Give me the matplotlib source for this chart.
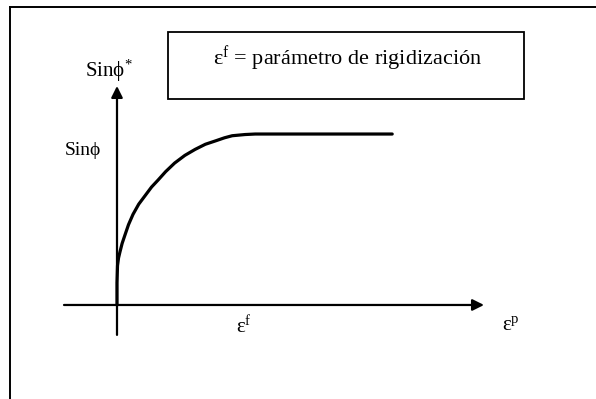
import matplotlib
matplotlib.use("Agg")
import matplotlib.pyplot as plt
from matplotlib.patches import Rectangle
from matplotlib.lines import Line2D

plt.rcParams['font.family'] = ['Liberation Serif', 'DejaVu Serif']
plt.rcParams['mathtext.fontset'] = 'custom'
plt.rcParams['mathtext.rm'] = 'Liberation Serif'
plt.rcParams['mathtext.it'] = 'Liberation Serif:italic'

# Hardening curve: plastic strain (in units of eps_f) vs mobilised sin(phi) (in units of sin(phi))
eps_p = [0.0, 0.0, 0.004, 0.012, 0.023, 0.04, 0.0625, 0.09, 0.125, 0.17, 0.22, 0.27,
         0.32, 0.38, 0.45, 0.53, 0.61, 0.69, 0.77, 0.84, 0.90, 1.0, 1.08, 2.15]
sin_phi = [0.0, 0.13, 0.23, 0.275, 0.31, 0.36, 0.41, 0.47, 0.53, 0.59, 0.64, 0.69,
           0.73, 0.78, 0.83, 0.875, 0.91, 0.94, 0.96, 0.978, 0.99, 0.997, 1.0, 1.0]

box_text = r'$\mathrm{ε}^{\mathrm{f}}$ = parámetro de rigidización'
ylabel_top = r'Sinϕ$^{*}$'
ylabel_level = 'Sinϕ'
xlabel_f = r'$\mathrm{ε}^{\mathrm{f}}$'
xlabel_p = r'$\mathrm{ε}^{\mathrm{p}}$'

fig = plt.figure(figsize=(5.96, 3.99), dpi=100)
ax = fig.add_axes([0, 0, 1, 1])
ax.set_xlim(-0.914, 3.742)
ax.set_ylim(-0.55, 1.784)
ax.axis('off')

# outer frame (top and left edges)
fig.add_artist(Line2D([0.0168, 1.0], [0.9825, 0.9825], color='black', lw=1.4,
                      transform=fig.transFigure))
fig.add_artist(Line2D([0.0168, 0.0168], [0.0, 0.9825], color='black', lw=1.4,
                      transform=fig.transFigure))

# axes with arrowheads
arrow = dict(arrowstyle='-|>', mutation_scale=17, lw=1.6, color='black',
             shrinkA=0, shrinkB=0)
ax.annotate('', xy=(2.867, 0), xytext=(-0.414, 0), arrowprops=arrow)
ax.annotate('', xy=(0, 1.281), xytext=(0, -0.175), arrowprops=arrow)

# curve
ax.plot(eps_p, sin_phi, color='black', lw=2.3, solid_capstyle='round',
        solid_joinstyle='round')

# definition box
ax.add_patch(Rectangle((0.398, 1.205), 3.18 - 0.398, 1.596 - 1.205,
                       fill=False, edgecolor='black', lw=1.3))
ax.text(0.75, 1.435, box_text, fontsize=16, va='center', ha='left')

# labels
ax.text(-0.25, 1.37, ylabel_top, fontsize=15, va='center', ha='left')
ax.text(-0.406, 0.906, ylabel_level, fontsize=14, va='center', ha='left')
ax.text(0.99, -0.135, xlabel_f, fontsize=15, va='center', ha='center')
ax.text(3.08, -0.12, xlabel_p, fontsize=15, va='center', ha='center')

fig.savefig('out.png', dpi=100)
